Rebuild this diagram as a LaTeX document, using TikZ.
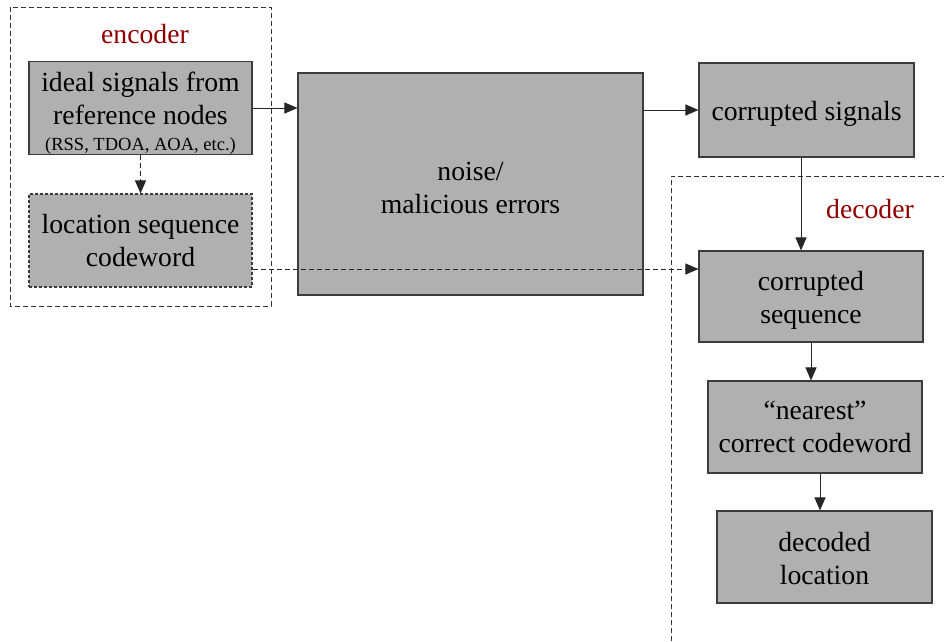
\documentclass[tikz,border=0pt]{standalone}
\usepackage{fontspec}
\setmainfont{Liberation Serif}
\usetikzlibrary{arrows.meta,calc}
\definecolor{boxgray}{RGB}{176,176,176}
\definecolor{boxline}{RGB}{60,60,60}
\definecolor{labred}{RGB}{145,0,0}
\newcommand\topfix[1]{\rule{0pt}{#1}}
\tikzset{
  box/.style={draw=boxline, fill=boxgray, line width=1.1pt, inner sep=0pt, align=center,
    font=\fontsize{27.7}{33}\selectfont},
  dashbox/.style={box, dash pattern=on 3pt off 2pt},
  region/.style={draw=black!80, line width=0.9pt, dash pattern=on 5pt off 3pt},
  arr/.style={draw=black!85, line width=1pt, -{Triangle[length=13pt,width=11pt]}},
  darr/.style={arr, dash pattern=on 5pt off 3pt},
  lab/.style={text=labred, font=\fontsize{27.7}{33}\selectfont, anchor=base, inner sep=0pt},
}
\begin{document}
\begin{tikzpicture}[x=1pt,y=-1pt]
\useasboundingbox (0,0) rectangle (944,641);
% encoder region
\draw[region] (10,7) rectangle (271,306);
\node[lab] (enc) at (145,43) {encoder};
% decoder region
\draw[region] (671,641) -- (671,176) -- (944,176);
\node[lab] (dec) at (870,218) {decoder};

\node[box, minimum width=223pt, minimum height=93pt] (ideal) at (140.5,108)
  {\topfix{29pt}ideal signals from\\reference nodes\\[-7pt]{\fontsize{18.5}{20}\selectfont (RSS, TDOA, AOA, etc.)}};
\node[dashbox, minimum width=223pt, minimum height=93pt] (loc) at (140.5,240.5)
  {location sequence\\codeword};
\node[box, minimum width=345pt, minimum height=222pt] (noise) at (470.5,184)
  {\topfix{27pt}noise/\\malicious errors};
\node[box, minimum width=215pt, minimum height=94pt] (sig) at (806.5,110)
  {\topfix{26pt}corrupted signals};
\node[box, minimum width=224pt, minimum height=91pt] (seq) at (811,296.5)
  {\topfix{27pt}corrupted\\sequence};
\node[box, minimum width=214pt, minimum height=92pt] (near) at (815,427)
  {“nearest”\\correct codeword};
\node[box, minimum width=215pt, minimum height=92pt] (decl) at (824.5,557)
  {\topfix{22pt}decoded\\location};

% connectors
\draw[darr] (ideal.south) -- (loc.north);
\draw[arr] (ideal.east) -- (noise.west |- ideal.east);
\draw[arr] (noise.east |- sig.west) -- (sig.west);
\coordinate (sigout) at ([xshift=-5.5pt]sig.south);
\draw[arr] (sigout) -- (sigout |- seq.north);
\coordinate (locout) at ([yshift=-28.5pt]loc.east);
\draw[darr] (locout) -- (seq.west |- locout);
\draw[arr] (seq.south) -- (seq.south |- near.north);
\coordinate (nearout) at ([xshift=5pt]near.south);
\draw[arr] (nearout) -- (nearout |- decl.north);
\end{tikzpicture}
\end{document}
